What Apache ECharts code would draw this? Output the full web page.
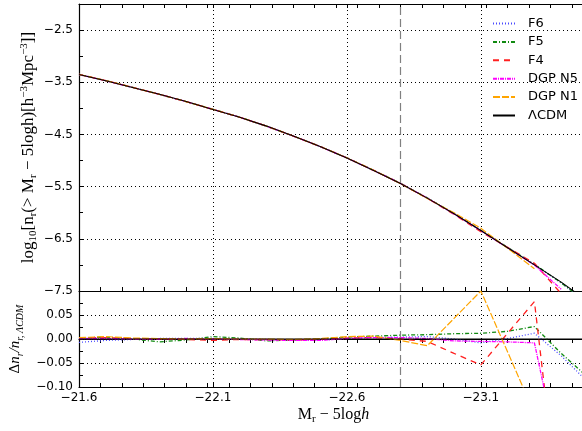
<!DOCTYPE html>
<html>
<head>
<meta charset="utf-8">
<script src="https://cdn.jsdelivr.net/npm/echarts@6/dist/echarts.min.js"></script>
<style>html,body{margin:0;padding:0;background:#fff}#c{width:582px;height:431px}</style>
</head>
<body>
<div id="c"></div>
<script>
// ---- data ----
const mags = [-21.6,-21.7,-21.8,-21.9,-22.0,-22.1,-22.2,-22.3,-22.4,-22.5,-22.6,-22.7,-22.8,-22.9,-23.0,-23.1,-23.2,-23.3,-23.4,-23.5];
const lcdmLogN = [-3.35,-3.47,-3.60,-3.73,-3.87,-4.02,-4.17,-4.34,-4.53,-4.73,-4.95,-5.19,-5.44,-5.72,-6.02,-6.34,-6.67,-7.00,-7.33,-7.70];
const f6Ratio = [-0.007,-0.003,-0.001,0.001,0.001,0.001,0.000,-0.001,-0.002,-0.002,0.001,0.003,0.004,0.005,0.000,-0.008,0.001,0.012,-0.035,-0.090];
const f5Ratio = [0.002,0.004,0.000,-0.006,-0.002,0.005,0.002,-0.004,-0.002,0.000,0.004,0.006,0.008,0.009,0.011,0.012,0.016,0.026,-0.030,-0.080];
const f4Ratio = [0.002,0.003,0.001,0.000,-0.001,-0.003,-0.001,-0.001,-0.002,-0.001,0.002,0.003,0.000,-0.005,-0.030,-0.054,0.012,0.078,-0.400,null];
const dgpN5Ratio = [0.001,0.001,0.000,0.000,0.001,0.000,-0.001,-0.002,-0.003,-0.003,0.001,0.003,0.003,0.001,-0.004,-0.005,-0.006,-0.008,-0.270,null];
const dgpN1Ratio = [0.003,0.005,0.002,0.001,0.000,0.001,0.000,0.000,-0.001,0.001,0.005,0.006,-0.003,-0.014,0.043,0.100,-0.027,-0.155,null,null];
const lcdmRatio = [0,0,0,0,0,0,0,0,0,0,0,0,0,0,0,0,0,0,0,0];

const seriesNames = ['F6','F5','F4','DGP N5','DGP N1','ΛCDM'];
const ratioSets = [f6Ratio, f5Ratio, f4Ratio, dgpN5Ratio, dgpN1Ratio, lcdmRatio];

const xTickLabels = [-21.6,-22.1,-22.6,-23.1];
const yTopTickLabels = [-7.5,-6.5,-5.5,-4.5,-3.5,-2.5];
const yBotTickLabels = [-0.10,-0.05,0.00,0.05];
const cutMag = -22.8;

// ---- styling ----
const lineStyles = [
  {color:'#4a4aff', type:[1,2], width:1.3},
  {color:'#118a11', type:[4,2,1,2], width:1.3},
  {color:'#ff2020', type:[6,5], width:1.3},
  {color:'#ff00ff', type:[4,1,1,1], width:1.3},
  {color:'#ffa500', type:[7,2], width:1.2},
  {color:'#000000', type:'solid', width:1.1}
];

const X_MIN = -23.5, X_MAX = -21.6;
const xMinor = [];
for (let k = 270; k <= 293; k++) xMinor.push(+(-k * 0.08).toFixed(2));
const xTicks = xMinor.concat(xTickLabels.slice(1));
const yTopTicks = [];
for (let v = -7.5; v <= -2.0001; v += 0.5) yTopTicks.push(+v.toFixed(2));
const yBotTicks = [];
for (let v = -0.1; v <= 0.1001; v += 0.025) yBotTicks.push(+v.toFixed(3));

const minus = (v, d) => (v < -1e-9 ? '\u2212' : '') + Math.abs(v).toFixed(d);
const tickFont = {fontFamily:'DejaVu Sans', fontSize:12, color:'#000'};
const axLine = {show:true, lineStyle:{color:'#000', width:1.2}};

const grids = [
  {left:79, top:4, width:509, height:287, containLabel:false, outerBoundsMode:'none'},
  {left:79, top:291, width:509, height:96, containLabel:false, outerBoundsMode:'none'}
];

function xAx(gridIndex, position, labels) {
  return {
    type:'value', gridIndex, position, min:X_MIN, max:X_MAX, inverse:true,
    axisLine:axLine,
    axisTick:{show:true, inside:true, length:4, customValues:xTicks, lineStyle:{color:'#000'}},
    axisLabel: labels ? Object.assign({show:true, margin:5, customValues:xTickLabels, formatter:v=>minus(v,1)}, tickFont) : {show:false},
    splitLine:{show:false},
    name: labels ? '{t|M}{s|r}{t| − 5log}{i|h}' : '',
    nameLocation:'middle', nameGap:18, nameMoveOverlap:false,
    nameTextStyle:{rich:{
      t:{fontFamily:'Liberation Serif', fontSize:16, lineHeight:20, color:'#000'},
      s:{fontFamily:'Liberation Serif', fontSize:11, lineHeight:10, verticalAlign:'bottom', color:'#000'},
      i:{fontFamily:'Liberation Serif', fontSize:16, lineHeight:20, fontStyle:'italic', color:'#000'}
    }}
  };
}

const xAxes = [xAx(0,'bottom',false), xAx(0,'top',false), xAx(1,'top',false), xAx(1,'bottom',true)];
const yAxes = [
  {type:'value', gridIndex:0, min:-7.5, max:-2.0, position:'left',
   axisLine:axLine,
   axisTick:{show:true, inside:true, length:4, customValues:yTopTicks, lineStyle:{color:'#000'}},
   axisLabel:Object.assign({show:true, margin:6, customValues:yTopTickLabels, formatter:v=>minus(v,1)}, tickFont),
   splitLine:{show:false},
   name:'{t|log}{s|10}{t|[n}{s|r}{t|(> M}{s|r}{t| − 5logh)[h}{p|−3}{t|Mpc}{p|−3}{t|]]}',
   nameLocation:'middle', nameRotate:90, nameGap:40, nameMoveOverlap:false,
   nameTextStyle:{rich:{
     t:{fontFamily:'Liberation Serif', fontSize:17, lineHeight:20, color:'#000'},
     s:{fontFamily:'Liberation Serif', fontSize:11, lineHeight:9, verticalAlign:'bottom', color:'#000'},
     p:{fontFamily:'Liberation Serif', fontSize:11, lineHeight:9, verticalAlign:'top', color:'#000'}
   }}},
  {type:'value', gridIndex:1, min:-0.1, max:0.1, position:'left',
   axisLine:axLine,
   axisTick:{show:true, inside:true, length:4, customValues:yBotTicks, lineStyle:{color:'#000'}},
   axisLabel:Object.assign({show:true, margin:6, customValues:yBotTickLabels, formatter:v=>minus(v,2)}, tickFont),
   splitLine:{show:false},
   name:'{t|Δ}{i|n}{s|r}{i|/n}{s|r, ΛCDM}',
   nameLocation:'middle', nameRotate:90, nameGap:54, nameMoveOverlap:false,
   nameTextStyle:{rich:{
     t:{fontFamily:'Liberation Serif', fontSize:15, lineHeight:20, color:'#000'},
     i:{fontFamily:'Liberation Serif', fontSize:15, lineHeight:20, fontStyle:'italic', color:'#000'},
     s:{fontFamily:'Liberation Serif', fontSize:10, lineHeight:9, verticalAlign:'bottom', fontStyle:'italic', color:'#000'}
   }}}
];

const gridDot = {type:[1,3], color:'#000', width:1};
const cutStyle = {type:[8,4], color:'#808080', width:1.2};

function markLines(which) {
  const data = [];
  xTickLabels.slice(1).forEach(v => data.push({xAxis:v, lineStyle:gridDot}));
  if (which === 0) yTopTickLabels.slice(1).forEach(v => data.push({yAxis:v, lineStyle:gridDot}));
  else [-0.05, 0.05].forEach(v => data.push({yAxis:v, lineStyle:gridDot}));
  data.push({xAxis:cutMag, lineStyle:cutStyle});
  return {silent:true, symbol:['none','none'], label:{show:false}, data, animation:false};
}

const series = [];
seriesNames.forEach((name, k) => {
  const top = mags.map((m, i) => [m, ratioSets[k][i] == null ? null : lcdmLogN[i] + Math.log10(1 + ratioSets[k][i])]);
  const s = {name, type:'line', xAxisIndex:0, yAxisIndex:0, data:top, showSymbol:false, symbol:'none',
             lineStyle:lineStyles[k], itemStyle:{color:lineStyles[k].color}, z:3+k, animation:false, connectNulls:false};
  if (k === 0) s.markLine = markLines(0);
  series.push(s);
});
seriesNames.forEach((name, k) => {
  const bot = mags.map((m, i) => [m, ratioSets[k][i]]);
  const s = {name, type:'line', xAxisIndex:3, yAxisIndex:1, data:bot, showSymbol:false, symbol:'none',
             lineStyle:lineStyles[k], itemStyle:{color:lineStyles[k].color}, z:3+k, animation:false};
  if (k === 0) s.markLine = markLines(1);
  series.push(s);
});

const chart = echarts.init(document.getElementById('c'), null, {renderer:'canvas'});
chart.setOption({
  backgroundColor:'#fff',
  animation:false,
  grid:grids,
  xAxis:xAxes,
  yAxis:yAxes,
  legend:{
    data:seriesNames, orient:'vertical', left:490, top:15,
    itemWidth:22, itemHeight:14, itemGap:5.4,
    itemStyle:{opacity:0},
    textStyle:{fontFamily:'DejaVu Sans', fontSize:13, color:'#000', padding:[0,0,0,8]},
    backgroundColor:'#fff', padding:[2,4,2,2]
  },
  series
});
</script>
</body>
</html>
